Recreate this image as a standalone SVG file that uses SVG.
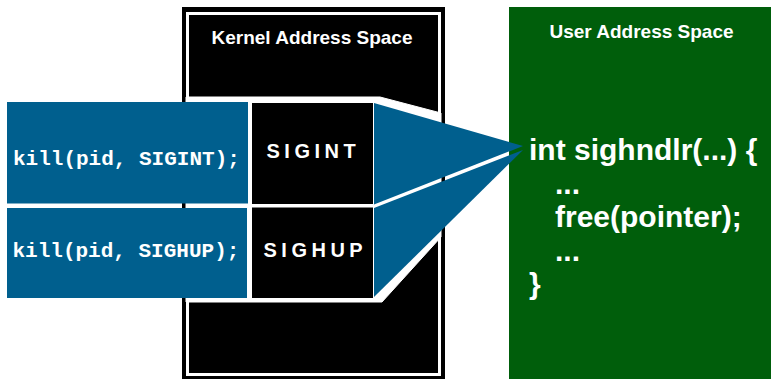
<svg xmlns="http://www.w3.org/2000/svg" width="771" height="379" viewBox="0 0 771 379">
<style>
.title{font-family:"Liberation Sans",Arial,sans-serif;font-weight:bold;font-size:19px;fill:#fff;}
.call{font-family:"Liberation Mono","Courier New",monospace;font-weight:bold;font-size:21px;fill:#fff;}
.sig{font-family:"Liberation Sans",Arial,sans-serif;font-weight:bold;font-size:20px;fill:#fff;letter-spacing:4.5px;}
.code{font-family:"Liberation Sans",Arial,sans-serif;font-weight:bold;font-size:30px;fill:#fff;}
.blue{fill:#005f8e;}
</style>
<rect width="771" height="379" fill="#fff"/>
<g id="kernel">
<rect x="182" y="7" width="263" height="372" fill="#000"/>
<rect x="186" y="12" width="255" height="364" fill="#fff"/>
<rect x="189" y="15" width="249" height="358" fill="#000"/>
<polygon points="186,97 380,97 441,113 441,237 382,302 186,302" fill="#fff" stroke="#fff" stroke-width="1" stroke-linejoin="round"/>
<text class="title" x="312" y="43.5" text-anchor="middle">Kernel Address Space</text>
</g>
<g id="user">
<rect x="509" y="7" width="262" height="372" fill="#005e0b"/>
<text class="title" x="641.5" y="37.5" text-anchor="middle">User Address Space</text>
<text class="code" x="529" y="159.5">int sighndlr(...) {</text>
<text class="code" x="555" y="193.5">...</text>
<text class="code" x="555" y="227">free(pointer);</text>
<text class="code" x="555" y="261">...</text>
<text class="code" x="529" y="294">}</text>
</g>
<g id="connectors">
<polygon class="blue" points="374,103 523,146 374,204.5"/>
<polygon class="blue" points="374,208 523,150 374,297"/>
</g>
<g id="kill-sigint">
<rect class="blue" x="7" y="102" width="241" height="101.5"/>
<text class="call" x="13" y="165">kill(pid, SIGINT);</text>
</g>
<g id="kill-sighup">
<rect class="blue" x="7" y="208" width="240" height="90"/>
<text class="call" x="12.5" y="256.5">kill(pid, SIGHUP);</text>
</g>
<g id="sigint">
<rect x="252" y="103" width="121" height="101" fill="#000"/>
<text class="sig" x="266.5" y="158.3">SIGINT</text>
</g>
<g id="sighup">
<rect x="252" y="207.5" width="121" height="90.5" fill="#000"/>
<text class="sig" x="263.5" y="256.7">SIGHUP</text>
</g>
</svg>
